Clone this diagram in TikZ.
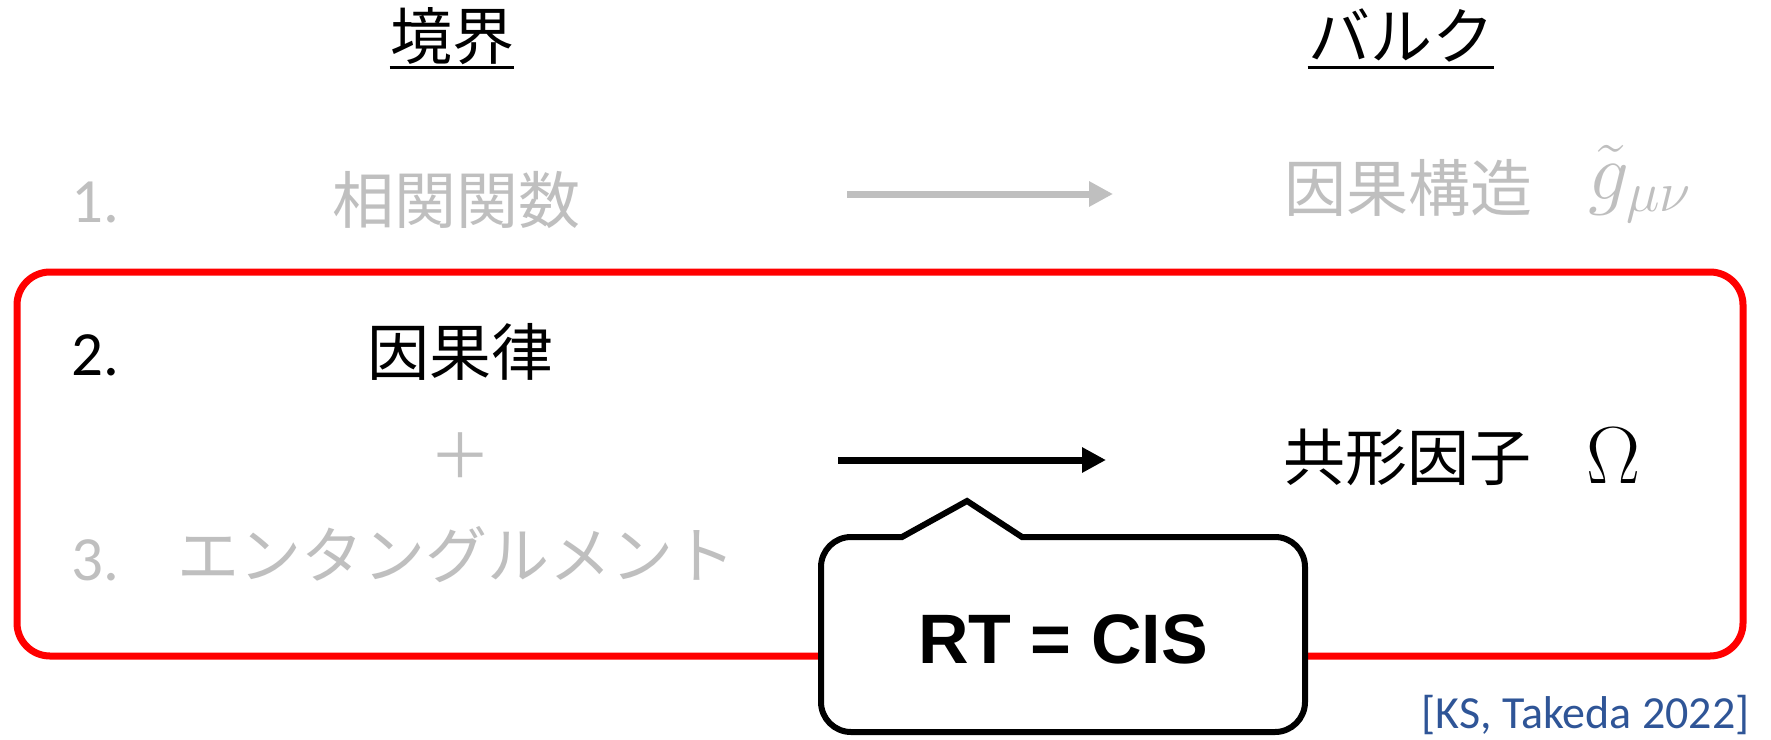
\RequirePackage{fix-cm}
\documentclass[tikz,border=0pt]{standalone}
\usepackage{fontspec}
\usetikzlibrary{arrows.meta,calc}
\newfontfamily\jpfont{Noto Sans CJK JP}
\newfontfamily\numfont{Carlito}
\newfontfamily\arfont{Liberation Sans}
\definecolor{lgray}{HTML}{BFBFBF}
\definecolor{citeblue}{HTML}{2F5597}
\definecolor{boxred}{HTML}{FF0000}
\tikzset{
  jp/.style={inner sep=0pt, font=\jpfont\fontsize{31}{37}\selectfont},
  num/.style={inner sep=0pt, font=\numfont\fontsize{31.5}{37}\selectfont},
  mth/.style={inner sep=0pt, font=\fontsize{40.5}{48}\selectfont},
  faded/.style={text=lgray},
  uline/.style={line width=1.5pt, black},
  grayarrow/.style={line width=3.5pt, lgray, -{Triangle[length=12pt,width=12pt]}},
  blackarrow/.style={line width=3.5pt, black, -{Triangle[length=12pt,width=12pt]}},
  redbox/.style={line width=3.5pt, boxred, rounded corners=16.5pt},
  calloutline/.style={line width=3pt, black, fill=white, line join=miter},
  rtlabel/.style={inner sep=0pt, font=\arfont\bfseries\fontsize{35}{42}\selectfont},
  citelabel/.style={inner sep=0pt, text=citeblue, font=\numfont\fontsize{23}{27}\selectfont}
}
\begin{document}
\begin{tikzpicture}[x=0.5pt,y=-0.5pt]
\useasboundingbox (0,0) rectangle (1771,739);
\fill[white] (0,0) rectangle (1771,739);

% headings
\node[jp, anchor=base] (tb) at (452,59) {境界};
\draw[uline] ($(tb.base west)+(0,8)$) -- ($(tb.base east)+(0,8)$);
\node[jp, anchor=base] (tk) at (1401,59) {バルク};
\draw[uline] ($(tk.base west)+(0,8)$) -- ($(tk.base east)+(0,8)$);

% row 1
\node[num, faded, anchor=base west] (n1) at (71,222) {1.};
\node[jp, faded, anchor=base] (corr) at (456,223) {相関関数};
\coordinate (a1s) at (847,194);
\coordinate (a1e) at (1113,194);
\draw[grayarrow] (a1s) -- (a1e);
\node[jp, faded, anchor=base] (caus) at (1408,211) {因果構造};
\node[mth, faded, anchor=base west] (gmn) at (1588,199) {$\tilde g_{\mu\nu}$};

% red frame
\coordinate (rbTL) at (17,272);
\coordinate (rbBR) at (1743,656);
\draw[redbox] (rbTL) rectangle (rbBR);

% row 2
\node[num, anchor=base west] (n2) at (71,375) {2.};
\node[jp, anchor=base] (law) at (460,375) {因果律};
\node[jp, faded, anchor=center] (plus) at (460,456) {＋};
\node[num, faded, anchor=base west] (n3) at (71,580) {3.};
\node[jp, faded, anchor=base] (ent) at (456,578) {エンタングルメント};
\coordinate (a2s) at (838,460);
\coordinate (a2e) at (1106,460);
\draw[blackarrow] (a2s) -- (a2e);
\node[jp, anchor=base] (conf) at (1407,480) {共形因子};
\node[mth, anchor=base] (om) at (1614,483) {$\Omega$};

% callout
\coordinate (cL) at (821,640);
\coordinate (cTL) at (821,537);
\coordinate (cA) at (902,537);
\coordinate (cTip) at (967,501);
\coordinate (cB) at (1022,537);
\coordinate (cTR) at (1305,537);
\coordinate (cBR) at (1305,732);
\coordinate (cBL) at (821,732);
\draw[calloutline] (cL) [rounded corners=15pt] -- (cTL) [sharp corners] -- (cA) -- (cTip) -- (cB) [rounded corners=15pt] -- (cTR) -- (cBR) -- (cBL) -- cycle;
\node[rtlabel, anchor=base] (rt) at (1063,663) {RT = CIS};

% citation
\node[citelabel, anchor=base east] (cite) at (1750,728) {[KS, Takeda 2022]};
\end{tikzpicture}
\end{document}
